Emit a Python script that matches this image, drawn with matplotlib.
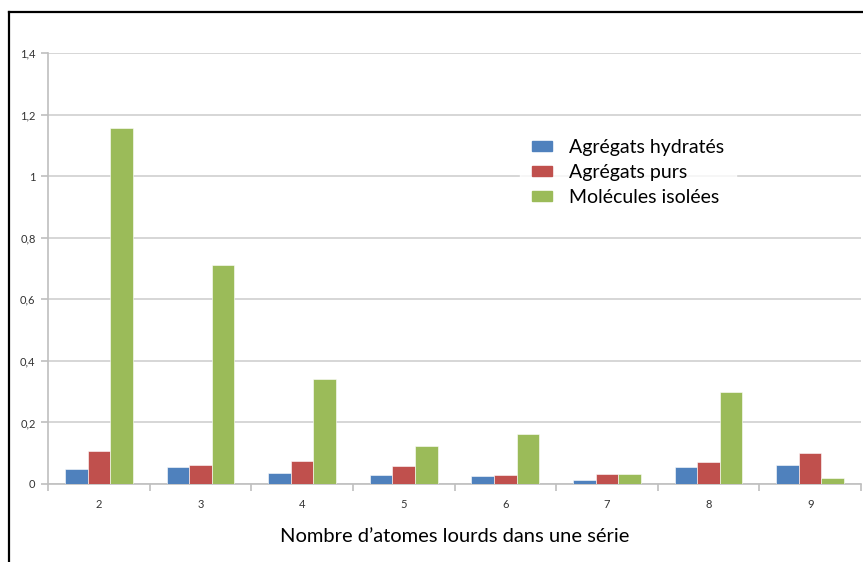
import numpy as np
import matplotlib
matplotlib.use("Agg")
from matplotlib import pyplot as plt
from matplotlib.patches import Patch

plt.rcParams['font.family'] = ['Lato', 'DejaVu Sans']

# number of heavy atoms in a series
categories = ["2", "3", "4", "5", "6", "7", "8", "9"]

hydrates = [0.048, 0.054, 0.036, 0.028, 0.025, 0.014, 0.055, 0.063]
purs = [0.106, 0.061, 0.076, 0.057, 0.028, 0.033, 0.072, 0.100]
isolees = [1.157, 0.711, 0.340, 0.123, 0.163, 0.031, 0.299, 0.019]

series = [
    ("Agrégats hydratés", hydrates, "#4F81BD"),
    ("Agrégats purs", purs, "#C0504D"),
    ("Molécules isolées", isolees, "#9BBB59"),
]

fig = plt.figure(figsize=(8.63, 5.62), dpi=100)
ax = fig.add_axes([48 / 863, 1 - 484 / 562, 813 / 863, 431 / 562])

x = np.arange(len(categories))
w = 1 / 4.5  # gap width 150%
for i, (name, vals, col) in enumerate(series):
    ax.bar(x + (i - 1) * w, vals, width=w, color=col, edgecolor="white",
           linewidth=0.4, label=name, zorder=3)

ax.set_xlim(-0.5, len(categories) - 0.5)
ax.set_ylim(0, 1.4)
ax.set_yticks(np.arange(0, 1.41, 0.2))
ax.set_yticklabels(["0", "0,2", "0,4", "0,6", "0,8", "1", "1,2", "1,4"])
ax.set_xticks(x)
ax.set_xticklabels(categories)
ax.set_xticks(np.arange(-0.5, len(categories)), minor=True)

ax.grid(axis="y", color="#cfcfcf", linewidth=1.2, zorder=0)
for s in ["top", "right"]:
    ax.spines[s].set_visible(False)
for s in ["left", "bottom"]:
    ax.spines[s].set_color("#bfbfbf")
    ax.spines[s].set_linewidth(1.2)

ax.tick_params(axis="y", length=5, color="#bfbfbf", width=1.2,
               labelsize=8, labelcolor="#333333", pad=4)
ax.tick_params(axis="x", which="major", length=0, labelsize=8,
               labelcolor="#333333", pad=11)
ax.tick_params(axis="x", which="minor", length=5, color="#bfbfbf", width=1.2)

ax.set_xlabel("Nombre d\u2019atomes lourds dans une série", fontsize=14.5,
              labelpad=13, color="black")

handles = [Patch(color=c) for _, _, c in series]
leg = ax.legend(handles, [n for n, _, _ in series], loc="upper left",
                bbox_to_anchor=(0.569, 0.85), frameon=True, fontsize=14,
                handlelength=1.05, handleheight=0.4, handletextpad=0.85,
                labelspacing=0.4, borderpad=0.6, fancybox=False)
leg.get_frame().set_edgecolor("white")
leg.get_frame().set_facecolor("white")
leg.set_zorder(5)

# chart area border (left and top edges)
fig.add_artist(plt.Line2D([9 / 863, 9 / 863], [0, 1 - 12 / 562],
                          transform=fig.transFigure, color="black", linewidth=1.6))
fig.add_artist(plt.Line2D([9 / 863, 1], [1 - 12 / 562, 1 - 12 / 562],
                          transform=fig.transFigure, color="black", linewidth=1.6))

fig.savefig("out.png", dpi=100)
